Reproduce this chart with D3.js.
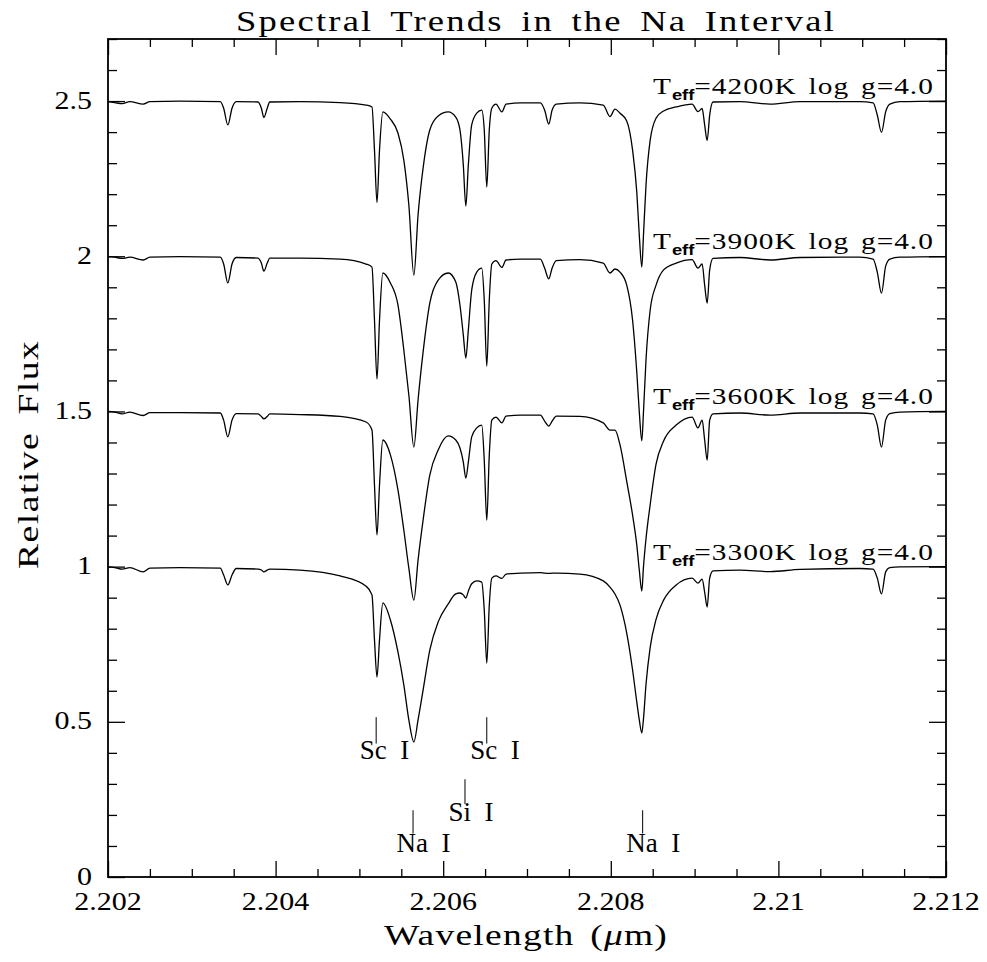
<!DOCTYPE html>
<html><head><meta charset="utf-8">
<script src="https://cdn.jsdelivr.net/npm/d3@7/dist/d3.min.js"></script>
<style>body{margin:0;background:#fff}svg{display:block}</style>
</head><body>
<svg id="chart" width="987" height="962"></svg>
<script>
// ---- DATA ----
const wavelength = [2.20200,2.20208,2.20217,2.20226,2.20242,2.20250,2.20286,2.20334,2.20338,2.20343,2.20348,2.20353,
2.20379,2.20383,2.20386,2.20390,2.20393,2.20429,2.20477,2.20508,2.20515,2.20518,2.20521,2.20524,2.20528,
2.20537,2.20546,2.20553,2.20559,2.20565,2.20570,2.20576,2.20584,2.20594,2.20606,2.20615,2.20620,2.20624,
2.20627,2.20630,2.20634,2.20640,2.20646,2.20649,2.20652,2.20655,2.20658,2.20663,2.20670,2.20675,2.20692,
2.20716,2.20721,2.20726,2.20730,2.20735,2.20763,2.20791,2.20799,2.20805,2.20811,2.20819,2.20826,2.20831,
2.20834,2.20837,2.20839,2.20842,2.20847,2.20854,2.20863,2.20878,2.20897,2.20904,2.20909,2.20912,2.20915,
2.20918,2.20922,2.20954,2.20990,2.21026,2.21097,2.21113,2.21118,2.21123,2.21128,2.21133,2.21145,2.21200];

const flux4200 = [0.998,0.995,0.992,0.998,0.990,0.998,1.000,0.998,0.977,0.923,0.977,0.998,
0.997,0.977,0.947,0.977,0.997,0.998,0.995,0.987,0.981,0.842,0.673,0.842,0.965,
0.942,0.897,0.810,0.665,0.439,0.633,0.784,0.907,0.952,0.965,0.948,0.907,0.794,
0.662,0.794,0.923,0.961,0.971,0.907,0.723,0.907,0.977,0.990,0.965,0.990,0.994,
0.994,0.971,0.926,0.971,0.990,0.994,0.987,0.950,0.974,0.961,0.936,0.842,0.707,
0.568,0.465,0.568,0.729,0.874,0.945,0.968,0.981,0.990,0.966,0.976,0.923,0.873,
0.955,0.997,0.998,0.990,0.998,0.998,0.994,0.955,0.899,0.965,0.990,0.998,1.000];

const flux3900 = [0.999,0.997,0.993,0.997,0.988,0.997,0.999,0.997,0.975,0.914,0.975,0.996,
0.994,0.978,0.952,0.978,0.994,0.994,0.991,0.975,0.965,0.794,0.604,0.794,0.946,
0.914,0.843,0.698,0.553,0.385,0.537,0.691,0.849,0.923,0.946,0.917,0.843,0.746,
0.672,0.762,0.891,0.949,0.962,0.859,0.646,0.859,0.975,0.986,0.964,0.988,0.991,
0.991,0.962,0.927,0.962,0.986,0.989,0.978,0.946,0.959,0.949,0.907,0.794,0.627,
0.498,0.405,0.498,0.666,0.827,0.907,0.956,0.978,0.989,0.962,0.975,0.907,0.849,
0.956,0.993,0.996,0.988,0.996,0.997,0.991,0.949,0.881,0.968,0.991,0.997,0.999];

const flux3600 = [1.000,0.998,0.992,0.998,0.987,0.996,0.996,0.995,0.972,0.918,0.972,0.993,
0.992,0.984,0.976,0.984,0.992,0.990,0.984,0.966,0.940,0.763,0.602,0.763,0.908,
0.860,0.747,0.618,0.495,0.392,0.521,0.650,0.795,0.876,0.921,0.908,0.882,0.837,
0.785,0.837,0.918,0.947,0.956,0.843,0.649,0.860,0.972,0.982,0.963,0.985,0.988,
0.988,0.969,0.953,0.969,0.985,0.984,0.963,0.940,0.940,0.892,0.775,0.666,0.570,
0.489,0.421,0.500,0.590,0.700,0.830,0.905,0.956,0.982,0.947,0.972,0.908,0.843,
0.972,0.992,0.995,0.988,0.995,0.995,0.992,0.956,0.885,0.972,0.993,0.998,1.000];

const flux3300 = [0.999,0.997,0.992,0.997,0.983,0.995,0.997,0.995,0.973,0.941,0.973,0.994,
0.992,0.989,0.983,0.989,0.992,0.989,0.970,0.937,0.909,0.764,0.644,0.764,0.883,
0.828,0.725,0.619,0.506,0.435,0.506,0.602,0.731,0.822,0.880,0.912,0.915,0.909,
0.899,0.921,0.945,0.954,0.950,0.860,0.689,0.876,0.963,0.970,0.962,0.976,0.979,
0.981,0.979,0.978,0.979,0.979,0.976,0.954,0.934,0.912,0.876,0.786,0.667,0.564,
0.506,0.464,0.510,0.620,0.740,0.830,0.892,0.941,0.963,0.947,0.960,0.918,0.870,
0.963,0.986,0.989,0.984,0.991,0.994,0.992,0.963,0.912,0.983,0.997,0.999,1.000];

const modelTeff = ["4200K","3900K","3600K","3300K"];
const modelLogg = ["4.0","4.0","4.0","4.0"];
const modelOffsets = [1.5, 1.0, 0.5, 0.0];

const lineNames = ["Sc  I","Sc  I","Si  I","Na  I","Na  I"];
const lineWaves = [2.20520, 2.20652, 2.20626, 2.20564, 2.20838];
const lineRows = [0, 0, 1, 2, 2];

const xTicks = [2.202, 2.204, 2.206, 2.208, 2.210, 2.212];
const xTickLabels = ["2.202","2.204","2.206","2.208","2.21","2.212"];
const yTicks = [0, 0.5, 1, 1.5, 2, 2.5];
const yTickLabels = ["0","0.5","1","1.5","2","2.5"];

// ---- LAYOUT ----
const W = 987, H = 962;
const L = 108, R = 946, T = 39, B = 877;
const serif = "'Liberation Serif','Times New Roman',serif";
const sans = "'Liberation Sans',Arial,sans-serif";

const x = d3.scaleLinear().domain([2.202, 2.212]).range([L, R]);
const y = d3.scaleLinear().domain([0, 2.7]).range([B, T]);

const svg = d3.select("#chart");
svg.append("rect").attr("width", W).attr("height", H).attr("fill", "#fff");

function scaledText(parent, px, py, anchor, size, hs, build, rotate) {
  const g = parent.append("g").attr("transform", `translate(${px},${py})` + (rotate ? ` rotate(${rotate})` : ""));
  const t = g.append("text").attr("text-anchor", anchor).attr("font-family", serif)
    .attr("font-size", size).attr("fill", "#000").attr("transform", `scale(${hs},1)`);
  build(t);
  return t;
}
// text starting at x0 whose glyph box is stretched horizontally to width len
function fitText(parent, x0, py, len, size, ls, ws, build, rotate) {
  const g = parent.append("g").attr("transform", `translate(${x0},${py})` + (rotate ? ` rotate(${rotate})` : ""));
  const t = g.append("text").attr("text-anchor", "start").attr("font-family", serif)
    .attr("font-size", size).attr("fill", "#000")
    .style("letter-spacing", ls + "px").style("word-spacing", ws + "px");
  build(t);
  const bb = t.node().getBBox();
  const w = bb.width - ls;
  t.attr("transform", `scale(${len / w},1) translate(${-bb.x},0)`);
  return t;
}

// minor tick values
const xMinor = d3.range(0, 21).map(i => 2.202 + i * 0.0005).filter(v => !xTicks.some(t => Math.abs(t - v) < 1e-9));
const yMinor = d3.range(0, 28).map(i => i * 0.1).filter(v => !yTicks.some(t => Math.abs(t - v) < 1e-9));

const axesG = svg.append("g");
function addAxis(gen, tr, vals, size) {
  const a = gen.tickValues(vals).tickSizeInner(-size).tickSizeOuter(0).tickFormat("");
  const g = axesG.append("g").attr("transform", tr).call(a);
  g.select(".domain").remove();
  g.selectAll(".tick text").remove();
  g.selectAll(".tick line").attr("stroke", "#000").attr("stroke-width", 1.3);
  return g;
}
addAxis(d3.axisBottom(x), `translate(0,${B})`, xMinor, 8);
addAxis(d3.axisTop(x), `translate(0,${T})`, xMinor, 8);
addAxis(d3.axisLeft(y), `translate(${L},0)`, yMinor, 9);
addAxis(d3.axisRight(y), `translate(${R},0)`, yMinor, 9);
addAxis(d3.axisBottom(x), `translate(0,${B})`, xTicks, 16);
addAxis(d3.axisTop(x), `translate(0,${T})`, xTicks, 16);
addAxis(d3.axisLeft(y), `translate(${L},0)`, yTicks, 17);
addAxis(d3.axisRight(y), `translate(${R},0)`, yTicks, 17);

// frame
svg.append("rect").attr("x", L).attr("y", T).attr("width", R - L).attr("height", B - T)
  .attr("fill", "none").attr("stroke", "#000").attr("stroke-width", 1.8);

// tick labels
xTicks.forEach((v, i) => {
  scaledText(svg, x(v), B + 33, "middle", 25, 1.2, t => t.text(xTickLabels[i]));
});
yTicks.forEach((v, i) => {
  scaledText(svg, L - 16, y(v) + 7.5, "end", 25, 1.2, t => t.text(yTickLabels[i]));
});

// spectra
const fluxes = [flux4200, flux3900, flux3600, flux3300];
const line = d3.line().curve(d3.curveMonotoneX);
fluxes.forEach((f, k) => {
  const pts = wavelength.map((w, i) => [x(w), y(f[i] + modelOffsets[k])]);
  svg.append("path").attr("d", line(pts)).attr("fill", "none")
    .attr("stroke", "#000").attr("stroke-width", 1.3).attr("stroke-linejoin", "round");
});

// model labels
modelTeff.forEach((tf, k) => {
  fitText(svg, 653, y(1 + modelOffsets[k]) - 7, 280, 24, 0.8, 3, t => {
    t.append("tspan").text("T");
    t.append("tspan").attr("font-family", sans).attr("font-weight", "bold").attr("font-size", 15)
      .attr("dy", 6).style("letter-spacing", "0px").text("eff");
    t.append("tspan").attr("dy", -6).text(`=${tf} log g=${modelLogg[k]}`);
  });
});

// line identifications
const rowTop = [0.515, 0.315, 0.215], rowBot = [0.43, 0.235, 0.14], rowText = [0.379, 0.181, 0.0815];
lineNames.forEach((nm, i) => {
  const r = lineRows[i], xx = x(lineWaves[i]);
  svg.append("line").attr("x1", xx).attr("x2", xx).attr("y1", y(rowTop[r])).attr("y2", y(rowBot[r]))
    .attr("stroke", "#000").attr("stroke-width", 1);
  scaledText(svg, xx - 16.5, y(rowText[r]), "start", 27, 1.0, t => t.text(nm.replace(/ /g, "\u00A0")));
});

// titles
fitText(svg, 236, 31, 598, 30, 1.8, 5, t => t.text("Spectral Trends in the Na Interval"));
fitText(svg, 384, 945, 283, 30, 1.0, 4, t => {
  t.append("tspan").text("Wavelength (");
  t.append("tspan").attr("font-style", "italic").text("\u03BC");
  t.append("tspan").text("m)");
});
fitText(svg, 38, 569, 228, 30, 1.2, 5, t => t.text("Relative Flux"), -90);
</script>
</body></html>
